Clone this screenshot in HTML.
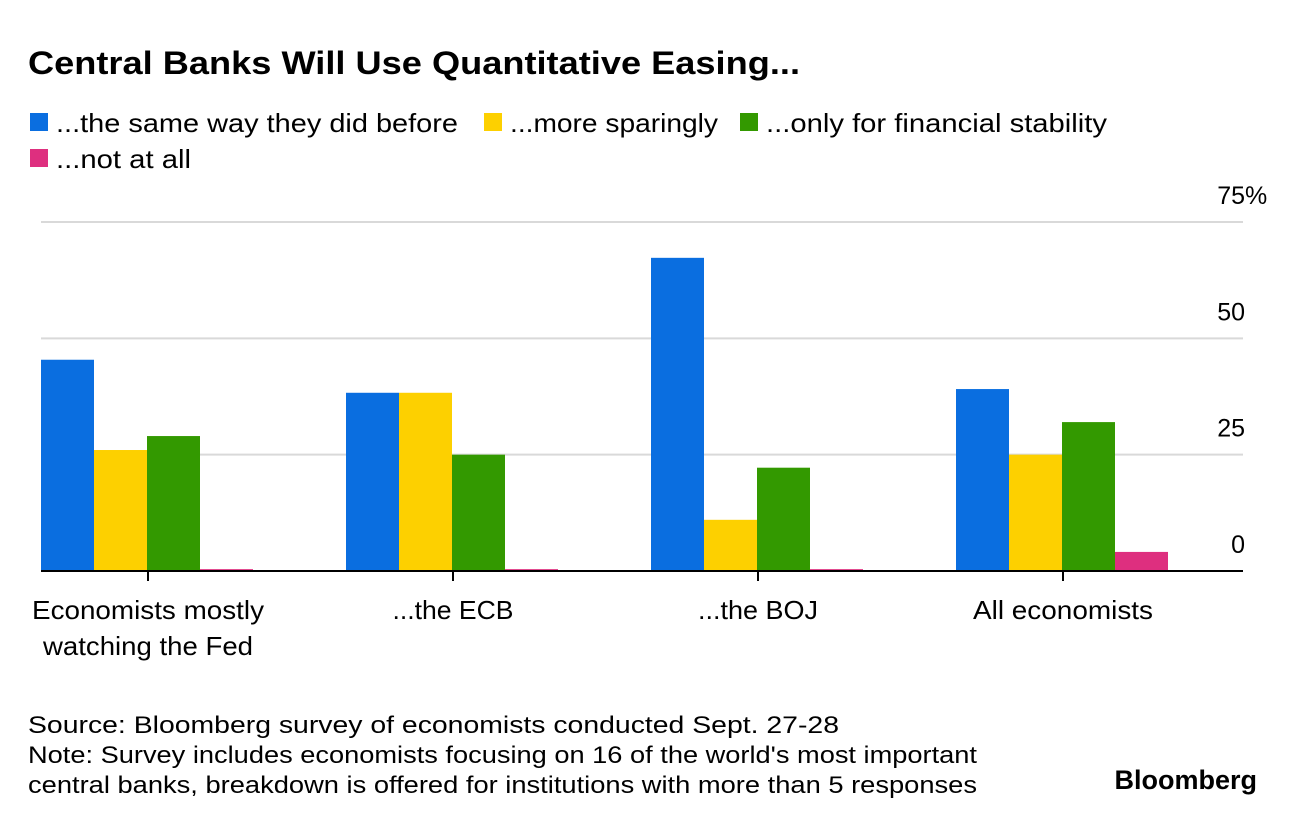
<!DOCTYPE html>
<html><head><meta charset="utf-8"><style>
body{margin:0;background:#fff;font-family:"Liberation Sans",Arial,sans-serif;}
#wrap{position:relative;width:1296px;height:826px;overflow:hidden;}
</style></head><body>
<div id="wrap">
<svg id="chart" width="1296" height="826" style="position:absolute;left:0;top:0">
<text x="28" y="74" font-size="32" font-weight="bold" fill="#000" textLength="772" lengthAdjust="spacingAndGlyphs">Central Banks Will Use Quantitative Easing...</text>
<g font-size="26" fill="#000">
<g><rect x="30" y="113" width="18" height="18" fill="#0a6ee0"/><text x="56" y="132" textLength="402" lengthAdjust="spacingAndGlyphs">...the same way they did before</text></g>
<g><rect x="484" y="113" width="18" height="18" fill="#fdd000"/><text x="510" y="132" textLength="208" lengthAdjust="spacingAndGlyphs">...more sparingly</text></g>
<g><rect x="740" y="113" width="18" height="18" fill="#339900"/><text x="766" y="132" textLength="341" lengthAdjust="spacingAndGlyphs">...only for financial stability</text></g>
<g><rect x="30" y="149" width="18" height="18" fill="#de2f7f"/><text x="56" y="168" textLength="135" lengthAdjust="spacingAndGlyphs">...not at all</text></g>
</g>
<g id="grid"></g><g id="bars"></g><g id="axis"></g>
<g font-size="24" fill="#000">
<text x="28" y="733" textLength="811" lengthAdjust="spacingAndGlyphs">Source: Bloomberg survey of economists conducted Sept. 27-28</text>
<text x="28" y="763" textLength="949" lengthAdjust="spacingAndGlyphs">Note: Survey includes economists focusing on 16 of the world's most important</text>
<text x="28" y="793" textLength="949" lengthAdjust="spacingAndGlyphs">central banks, breakdown is offered for institutions with more than 5 responses</text>
</g>
<text x="1257" y="789" font-size="27" font-weight="bold" text-anchor="end" fill="#000">Bloomberg</text>
</svg>
</div>
<script>
const categories=[["Economists mostly","watching the Fed"],["...the ECB"],["...the BOJ"],["All economists"]];
const sameWay=[45.4,38.3,67.3,39.1];
const sparingly=[26,38.3,11,25];
const stability=[29,25,22.2,32];
const notAtAll=[0.4,0.4,0.4,4.1];
const ticks=[0,25,50,75];
const labelWidths=[[232,210],[121],[120],[180]];
const NS="http://www.w3.org/2000/svg";
const x0=41,x1=1243,yBase=571,pxPer=(571-222)/75;
const y=v=>yBase-v*pxPer;
const groupW=305,barW=53;
function mk(tag,attrs,parent){const e=document.createElementNS(NS,tag);for(const k in attrs)e.setAttribute(k,attrs[k]);parent.appendChild(e);return e;}
const grid=document.getElementById('grid'),bars=document.getElementById('bars'),axis=document.getElementById('axis');
ticks.forEach(t=>{
 if(t>0){const l=mk('line',{x1:x0,x2:x1,y1:y(t),y2:y(t),stroke:'#d9d9d9','stroke-width':2},grid);
 
 }
 const tx=mk('text',{x:1245,y:y(t)-18,'font-size':25,'text-anchor':'end',fill:'#000'},grid);
 tx.textContent=String(t);
 
 
 if(t===ticks[ticks.length-1]){
  const pc=mk('text',{x:1245,y:y(t)-18,'font-size':25,fill:'#000'},grid);
  pc.textContent='%';
  
  
 }
});
const series=[[sameWay,'#0a6ee0','same'],[sparingly,'#fdd000','sparingly'],[stability,'#339900','stability'],[notAtAll,'#de2f7f','not-at-all']];
categories.forEach((c,i)=>{
 const gx=x0+i*groupW;
 series.forEach((s,j)=>{
  const v=s[0][i];
  const r=mk('rect',{x:gx+j*barW,y:y(v),width:barW,height:Math.max(v*pxPer,1),fill:s[1]},bars);
  
  
 });
 const cx=gx+107;
 const tk=mk('line',{x1:cx,x2:cx,y1:yBase,y2:yBase+10,stroke:'#000','stroke-width':2},axis);
 
 
 c.forEach((ln,k)=>{
  const t=mk('text',{x:cx,y:619+k*36,'font-size':26,'text-anchor':'middle',fill:'#000',textLength:labelWidths[i][k],lengthAdjust:'spacingAndGlyphs'},axis);
  t.textContent=ln;
  
  
 });
});
const base=mk('line',{x1:x0,x2:x1,y1:yBase,y2:yBase,stroke:'#000','stroke-width':2},axis);


</script>
</body></html>
